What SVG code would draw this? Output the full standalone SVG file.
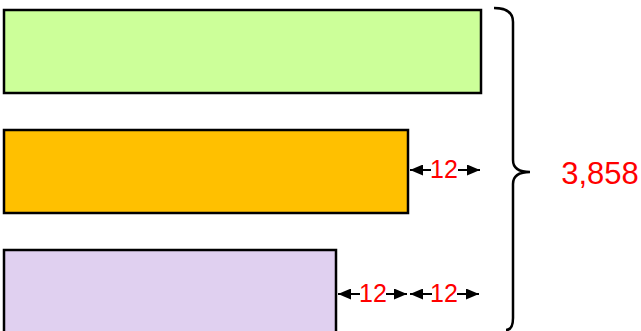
<svg xmlns="http://www.w3.org/2000/svg" width="641" height="331" viewBox="0 0 641 331">
<style>
.bar{stroke:#000;stroke-width:2.5}
.dim{stroke:#000;stroke-width:2;fill:none}
.lbl{font-family:"Liberation Sans",Arial,sans-serif;fill:#ff0000;text-anchor:middle}
</style>
<defs>
<marker id="ah" viewBox="0 0 13 11" refX="13" refY="5.5" markerWidth="13" markerHeight="11" markerUnits="userSpaceOnUse" orient="auto">
<path d="M0,0 L13,5.5 L0,11 Z" fill="#000"/>
</marker>
</defs>
<rect width="641" height="331" fill="#fff"/>
<g id="bar1"><rect class="bar" x="4" y="10" width="477" height="83" fill="#ccff99"/></g>
<g id="bar2"><rect class="bar" x="4" y="130" width="404" height="83" fill="#ffc000"/></g>
<g id="bar3"><rect class="bar" x="4" y="250" width="332" height="90" fill="#e0d0f0"/></g>
<g id="connectors">
<line class="dim" x1="431" y1="170" x2="410" y2="170" marker-end="url(#ah)"/>
<line class="dim" x1="458" y1="170" x2="480" y2="170" marker-end="url(#ah)"/>
<line class="dim" x1="360" y1="294" x2="338" y2="294" marker-end="url(#ah)"/>
<line class="dim" x1="386" y1="294" x2="407" y2="294" marker-end="url(#ah)"/>
<line class="dim" x1="432" y1="294" x2="410" y2="294" marker-end="url(#ah)"/>
<line class="dim" x1="457" y1="294" x2="479" y2="294" marker-end="url(#ah)"/>
<path d="M494,8 Q513,8 513,22 L513,160 Q513,172 530,172 Q513,172 513,184 L513,318 Q513,330 506,330" fill="none" stroke="#000" stroke-width="2.5"/>
</g>
<g id="labels">
<text class="lbl" x="444" y="178" font-size="25">12</text>
<text class="lbl" x="373" y="302" font-size="25">12</text>
<text class="lbl" x="444" y="302" font-size="25">12</text>
<text class="lbl" x="600" y="184" font-size="31">3,858</text>
</g>
</svg>
